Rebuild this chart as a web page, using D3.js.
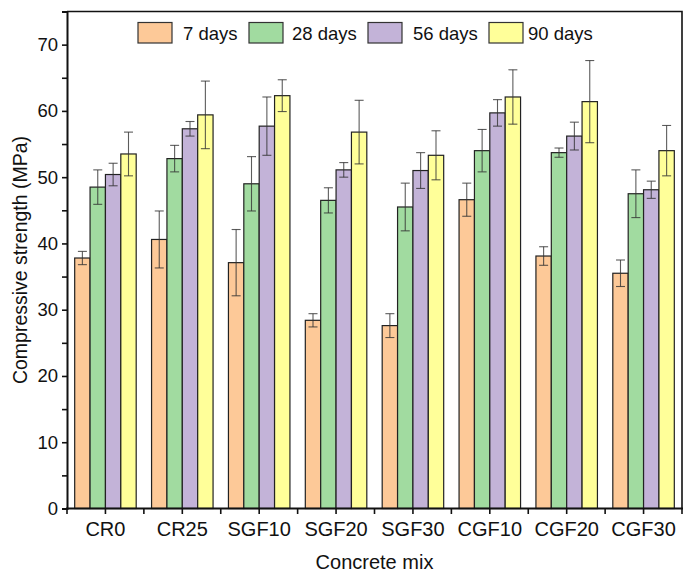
<!DOCTYPE html>
<html>
<head>
<meta charset="utf-8">
<script src="https://cdn.jsdelivr.net/npm/d3@7"></script>
<style>
  body { margin: 0; background: #fff; }
  svg text { font-family: "Liberation Sans", Arial, sans-serif; fill: #111; }
</style>
</head>
<body>
<div id="chart"></div>
<script>
// categories and series
const mixes = ["CR0", "CR25", "SGF10", "SGF20", "SGF30", "CGF10", "CGF20", "CGF30"];
const ages = ["7 days", "28 days", "56 days", "90 days"];

// mean compressive strength (MPa), one array per age
const day7  = [37.8, 40.6, 37.1, 28.4, 27.6, 46.6, 38.1, 35.5];
const day28 = [48.5, 52.8, 49.0, 46.5, 45.5, 54.0, 53.7, 47.5];
const day56 = [50.4, 57.3, 57.7, 51.1, 51.0, 59.7, 56.2, 48.1];
const day90 = [53.5, 59.4, 62.3, 56.8, 53.3, 62.1, 61.4, 54.0];

// standard deviations
const err7  = [1.0, 4.3, 5.0, 1.0, 1.8, 2.5, 1.4, 2.0];
const err28 = [2.6, 2.0, 4.1, 1.9, 3.6, 3.2, 0.7, 3.6];
const err56 = [1.7, 1.1, 4.4, 1.1, 2.7, 2.0, 2.1, 1.3];
const err90 = [3.3, 5.1, 2.4, 4.8, 3.7, 4.1, 6.2, 3.8];

const yTicks = [0, 10, 20, 30, 40, 50, 60, 70];
const colors = ["#FDC998", "#A1DBA0", "#C3B3D8", "#FFFF99"];

const means = [day7, day28, day56, day90];
const errs = [err7, err28, err56, err90];

let width = 683, height = 572;
let plot = {left: 67, right: 682, top: 11.5, bottom: 508.5};

let svg = d3.select("#chart").append("svg")
    .attr("width", width)
    .attr("height", height);

let x0 = d3.scaleBand()
    .domain(mixes)
    .range([plot.left, plot.right])
    .paddingInner(0.2)
    .paddingOuter(0.1);

let x1 = d3.scaleBand()
    .domain(ages)
    .range([0, x0.bandwidth()]);

let y = d3.scaleLinear()
    .domain([0, 75])
    .range([plot.bottom, plot.top]);

// flatten into one record per bar
let rows = [];
mixes.forEach((m, i) => {
    ages.forEach((a, j) => {
        rows.push({mix: m, age: a, k: j, v: means[j][i], e: errs[j][i]});
    });
});

// bars
svg.append("g").selectAll("rect")
    .data(rows)
    .join("rect")
    .attr("x", d => x0(d.mix) + x1(d.age))
    .attr("y", d => y(d.v))
    .attr("width", x1.bandwidth())
    .attr("height", d => y(0) - y(d.v))
    .attr("fill", d => colors[d.k])
    .attr("stroke", "#222")
    .attr("stroke-width", 1.2);

// error bars
let eb = svg.append("g")
    .attr("stroke", "#333")
    .attr("stroke-opacity", 0.8)
    .attr("stroke-width", 1.1)
    .selectAll("g")
    .data(rows)
    .join("g")
    .attr("transform", d => "translate(" + (x0(d.mix) + x1(d.age) + x1.bandwidth() / 2) + ",0)");

eb.append("line")
    .attr("y1", d => y(d.v + d.e))
    .attr("y2", d => y(d.v - d.e));
eb.append("line")
    .attr("x1", -4.5).attr("x2", 4.5)
    .attr("y1", d => y(d.v + d.e)).attr("y2", d => y(d.v + d.e));
eb.append("line")
    .attr("x1", -4.5).attr("x2", 4.5)
    .attr("y1", d => y(d.v - d.e)).attr("y2", d => y(d.v - d.e));

// frame (top and right)
svg.append("path")
    .attr("d", "M" + plot.left + "," + plot.top + "H" + plot.right + "V" + plot.bottom)
    .attr("fill", "none")
    .attr("stroke", "#111")
    .attr("stroke-width", 1.6);

// y axis
let yAxis = svg.append("g")
    .attr("transform", "translate(" + plot.left + ",0)")
    .call(d3.axisLeft(y).tickValues(d3.range(0, 75, 5)).tickSize(5).tickFormat(d => yTicks.includes(d) ? d : ""));
yAxis.select(".domain").attr("stroke", "#111").attr("stroke-width", 2);
yAxis.selectAll(".tick line").attr("stroke", "#111").attr("stroke-width", 1.6);
yAxis.selectAll(".tick text")
    .attr("x", -9)
    .style("font-size", "18.5px")
    .style("font-family", "Liberation Sans, Arial, sans-serif")
    .attr("fill", "#111");

// x axis: ticks at group boundaries and at group centres
let step = x0.step();
let bounds = d3.range(mixes.length + 1).map(i => plot.left + i * step);
let xg = svg.append("g");
xg.append("line")
    .attr("x1", plot.left - 1).attr("x2", plot.right + 1)
    .attr("y1", plot.bottom).attr("y2", plot.bottom)
    .attr("stroke", "#111").attr("stroke-width", 2);
xg.selectAll(".btick")
    .data(bounds)
    .join("line")
    .attr("class", "btick")
    .attr("x1", d => d).attr("x2", d => d)
    .attr("y1", plot.bottom).attr("y2", plot.bottom + 5.5)
    .attr("stroke", "#111").attr("stroke-width", 1.6);
xg.selectAll(".ctick")
    .data(mixes)
    .join("line")
    .attr("class", "ctick")
    .attr("x1", d => x0(d) + x0.bandwidth() / 2)
    .attr("x2", d => x0(d) + x0.bandwidth() / 2)
    .attr("y1", plot.bottom).attr("y2", plot.bottom + 5.5)
    .attr("stroke", "#111").attr("stroke-width", 1.6);
xg.selectAll("text")
    .data(mixes)
    .join("text")
    .attr("x", d => x0(d) + x0.bandwidth() / 2)
    .attr("y", 536)
    .attr("text-anchor", "middle")
    .style("font-size", "20px")
    .text(d => d);

// axis titles
svg.append("text")
    .attr("x", (plot.left + plot.right) / 2)
    .attr("y", 569)
    .attr("text-anchor", "middle")
    .style("font-size", "20px")
    .text("Concrete mix");

svg.append("text")
    .attr("transform", "translate(27," + (plot.top + plot.bottom) / 2 + ") rotate(-90)")
    .attr("text-anchor", "middle")
    .style("font-size", "19.5px")
    .text("Compressive strength (MPa)");

// legend
let legendBoxX = [138, 249, 368, 489];
let legendTextX = [183, 292, 413, 528];
let lg = svg.append("g").selectAll("g")
    .data(ages)
    .join("g");
lg.append("rect")
    .attr("x", (d, i) => legendBoxX[i])
    .attr("y", 22.5)
    .attr("width", 34)
    .attr("height", 20.5)
    .attr("fill", (d, i) => colors[i])
    .attr("stroke", "#333")
    .attr("stroke-width", 1.2);
lg.append("text")
    .attr("x", (d, i) => legendTextX[i])
    .attr("y", 40)
    .style("font-size", "18.5px")
    .text(d => d);
</script>
</body>
</html>
